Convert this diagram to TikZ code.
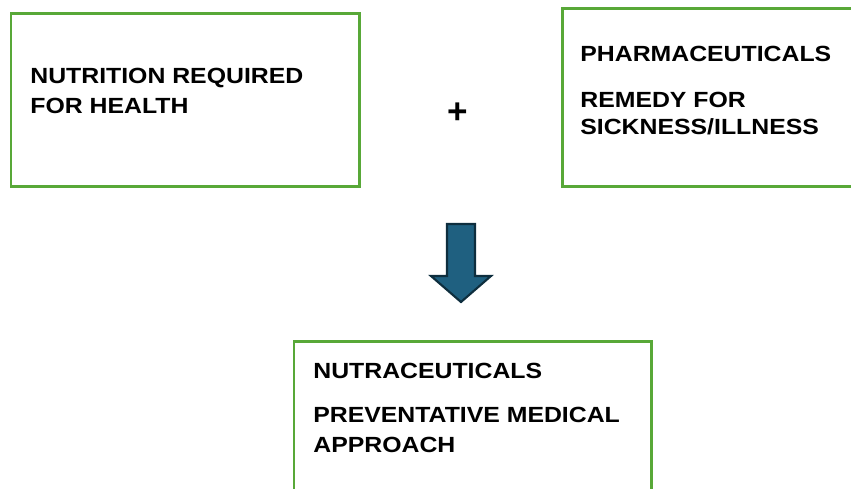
\documentclass[tikz,border=0pt]{standalone}
\usepackage{fontspec}
\setmainfont{Liberation Sans}
\newfontfamily\boxfont[FakeStretch=1.13]{Liberation Sans}
\usetikzlibrary{positioning}
\definecolor{boxgreen}{RGB}{88,168,56}
\definecolor{arrowfill}{RGB}{31,96,128}
\definecolor{arrowline}{RGB}{14,46,62}

\begin{document}
\begin{tikzpicture}[x=0.02cm, y=-0.02cm,
  every node/.style={font=\boxfont\fontsize{12.5}{17}\selectfont\bfseries},
  box/.style={draw=boxgreen, line width=1.7pt, rectangle, outer sep=0pt, inner sep=0pt, anchor=north west},
  txt/.style={anchor=north west, inner sep=0pt, align=left}]
\useasboundingbox (0,0) rectangle (851,488);
\clip (0,0) rectangle (851,488);
% Top row
\node[box, minimum width=6.98cm, minimum height=3.48cm] (nutrition) at (11,13) {};
\node[box, minimum width=6.9cm, minimum height=3.58cm] (pharma) at (562,8) {};
\node[txt] (nutritionText) at (30,68) {NUTRITION REQUIRED\\FOR HEALTH};
\node[txt] (pharmaTitle) at (580,46) {PHARMACEUTICALS};
\node[txt, font=\boxfont\fontsize{12.5}{15}\selectfont\bfseries] (pharmaText) at (580,92) {REMEDY FOR\\SICKNESS/ILLNESS};
\node[font=\fontsize{20}{20}\selectfont\bfseries] (plus) at (458,113) {+};
% Result
\node[box, minimum width=7.16cm, minimum height=3.6cm] (nutra) at (294,341) {};
\node[txt] (nutraTitle) at (313,363) {NUTRACEUTICALS};
\node[txt] (nutraText) at (313,407) {PREVENTATIVE MEDICAL\\APPROACH};
% Block arrow
\filldraw[fill=arrowfill, draw=arrowline, line width=1.2pt, line join=miter]
  (447,224) -- (475,224) -- (475,276) -- (491,276) -- (461,302) -- (431,276) -- (447,276) -- cycle;
\end{tikzpicture}
\end{document}
